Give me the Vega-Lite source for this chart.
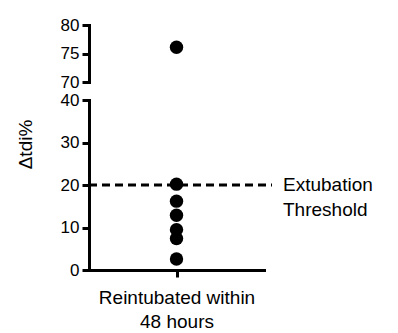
{
  "$schema": "https://vega.github.io/schema/vega-lite/v6.json",
  "background": "white",
  "padding": {"left": 16, "top": 16, "right": 5, "bottom": 5},
  "spacing": 18,
  "bounds": "flush",
  "config": {
    "view": {"stroke": null},
    "font": "Liberation Sans",
    "axis": {
      "domainColor": "black", "domainWidth": 3, "domainCap": "square",
      "tickColor": "black", "tickWidth": 3, "tickSize": 7,
      "labelFont": "Liberation Sans", "labelFontSize": 17, "labelColor": "black", "labelPadding": 3,
      "titleFont": "Liberation Sans", "titleFontSize": 19, "titleFontWeight": "normal", "titleColor": "black",
      "grid": false
    }
  },
  "datasets": {
    "dots": [
      {"group": "Reintubated within 48 hours", "value": 76.1},
      {"group": "Reintubated within 48 hours", "value": 20.2},
      {"group": "Reintubated within 48 hours", "value": 16.2},
      {"group": "Reintubated within 48 hours", "value": 12.9},
      {"group": "Reintubated within 48 hours", "value": 9.5},
      {"group": "Reintubated within 48 hours", "value": 7.4},
      {"group": "Reintubated within 48 hours", "value": 2.6}
    ],
    "threshold": [
      {"value": 20, "label": "Extubation Threshold"}
    ]
  },
  "vconcat": [
    {
      "width": 175, "height": 57,
      "data": {"name": "dots"},
      "transform": [{"filter": "datum.value >= 70"}],
      "mark": {"type": "point", "filled": true, "size": 180, "color": "black", "opacity": 1},
      "encoding": {
        "x": {"field": "group", "type": "nominal", "scale": {"type": "point", "padding": 0.5}, "axis": null},
        "y": {"field": "value", "type": "quantitative", "scale": {"domain": [70, 80], "nice": false, "zero": false},
              "axis": {"values": [70, 75, 80], "title": null}}
      }
    },
    {
      "width": 175, "height": 170,
      "layer": [
        {
          "data": {"name": "threshold"},
          "mark": {"type": "rule", "strokeDash": [8, 5], "strokeWidth": 3, "color": "black"},
          "encoding": {
            "x": {"value": 0},
            "x2": {"value": {"expr": "width + 8"}},
            "y": {"field": "value", "type": "quantitative"}
          }
        },
        {
          "data": {"name": "dots"},
          "transform": [{"filter": "datum.value < 70"}],
          "mark": {"type": "point", "filled": true, "size": 180, "color": "black", "opacity": 1},
          "encoding": {
            "x": {"field": "group", "type": "nominal", "scale": {"type": "point", "padding": 0.5},
                  "axis": {"labels": false, "title": ["Reintubated within", "48 hours"], "titlePadding": 10, "titleLineHeight": 24}},
            "y": {"field": "value", "type": "quantitative", "scale": {"domain": [0, 40], "nice": false},
                  "axis": {"values": [0, 10, 20, 30, 40], "title": "Δtdi%", "titleY": 44, "titleX": -54}}
          }
        },
        {
          "data": {"name": "threshold"},
          "mark": {"type": "text", "align": "left", "baseline": "middle", "fontSize": 19, "lineHeight": 25, "dx": 19, "color": "black", "font": "Liberation Sans"},
          "encoding": {
            "x": {"value": "width"},
            "y": {"field": "value", "type": "quantitative"},
            "text": {"value": ["Extubation", "Threshold"]}
          }
        }
      ]
    }
  ]
}
